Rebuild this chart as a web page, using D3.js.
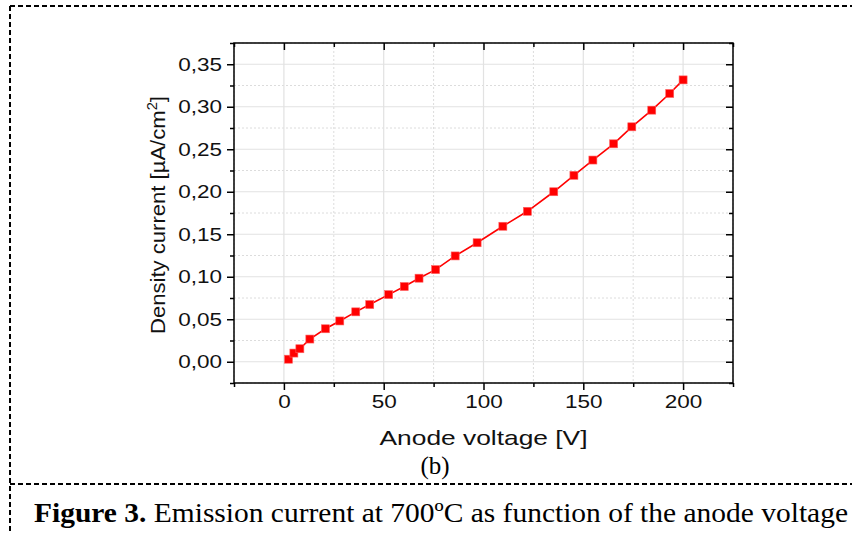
<!DOCTYPE html>
<html>
<head>
<meta charset="utf-8">
<script src="https://cdn.jsdelivr.net/npm/d3@7"></script>
<style>
body{margin:0;background:#fff;}
svg{display:block;}
</style>
</head>
<body>
<svg id="svg" width="852" height="533"></svg>
<script>
// anode voltage [V] and density current [uA/cm2]
var voltage=[2.3,5,8,13,20.8,28,36,43,52.5,60.3,67.7,76,85.8,96.8,109.7,122,135.2,145.3,154.8,165.2,174.3,184.3,193.3,200];
var current=[0.003,0.0102,0.0153,0.0267,0.0388,0.048,0.0587,0.0673,0.079,0.0885,0.0983,0.1084,0.1245,0.140,0.1594,0.177,0.200,0.2193,0.2373,0.2564,0.2764,0.296,0.3156,0.3316];
var xTicks=[0,50,100,150,200];
var xMinor=[-25,25,75,125,175,225];
var yTicks=[0,0.05,0.10,0.15,0.20,0.25,0.30,0.35];
var yMinor=[-0.025,0.025,0.075,0.125,0.175,0.225,0.275,0.325,0.375];

var svg=d3.select("#svg");
var pL=234,pR=733,pT=43,pB=383;

var x=d3.scaleLinear().domain([-25,225]).range([pL,pR]);
var y=d3.scaleLinear().domain([-0.025,0.375]).range([pB,pT]);

var fmt=function(d){return d3.format(".2f")(d).replace(".",",")};

// stretch text horizontally, the reference text is wide
function widen(sel,k){
    sel.each(function(){
        var w=this.getComputedTextLength();
        d3.select(this).attr("textLength",w*k).attr("lengthAdjust","spacingAndGlyphs");
    });
}

// page frame, dashed
var frame=svg.append("g").attr("stroke","#000").attr("stroke-width",2).attr("stroke-dasharray","5,3").attr("fill","none");
frame.append("line").attr("x1",10).attr("x2",852).attr("y1",6).attr("y2",6);
frame.append("line").attr("x1",10).attr("x2",10).attr("y1",6).attr("y2",533);
frame.append("line").attr("x1",10).attr("x2",852).attr("y1",484).attr("y2",484);

// grid
var grid=svg.append("g");
grid.selectAll(".vminor").data(xMinor).enter().append("line")
    .attr("x1",function(d){return x(d)}).attr("x2",function(d){return x(d)})
    .attr("y1",pT).attr("y2",pB)
    .attr("stroke","#dcdcdc").attr("stroke-dasharray","2,2");
grid.selectAll(".hminor").data(yMinor).enter().append("line")
    .attr("y1",function(d){return y(d)}).attr("y2",function(d){return y(d)})
    .attr("x1",pL).attr("x2",pR)
    .attr("stroke","#dcdcdc").attr("stroke-dasharray","2,2");
grid.selectAll(".vmajor").data(xTicks).enter().append("line")
    .attr("x1",function(d){return x(d)}).attr("x2",function(d){return x(d)})
    .attr("y1",pT).attr("y2",pB)
    .attr("stroke","#e2e2e2").attr("stroke-width",1.2);
grid.selectAll(".hmajor").data(yTicks).enter().append("line")
    .attr("y1",function(d){return y(d)}).attr("y2",function(d){return y(d)})
    .attr("x1",pL).attr("x2",pR)
    .attr("stroke","#e2e2e2").attr("stroke-width",1.2);

// axes
function styleAxis(g){
    g.select(".domain").remove();
    g.selectAll("line").attr("stroke","#000").attr("stroke-width",1.5);
    g.selectAll("text").attr("font-family","'Liberation Sans',Arial,sans-serif").attr("font-size","18px").attr("fill","#111");
}
var ax=svg.append("g");
ax.append("g").attr("transform","translate(0,"+pB+")")
    .call(d3.axisBottom(x).tickValues(xTicks).tickSize(7).tickPadding(5)).call(styleAxis)
    .selectAll("text").call(widen,1.25);
ax.append("g").attr("transform","translate(0,"+pB+")")
    .call(d3.axisBottom(x).tickValues(xMinor).tickSize(4).tickFormat("")).call(styleAxis);
ax.append("g").attr("transform","translate("+pL+",0)")
    .call(d3.axisLeft(y).tickValues(yTicks).tickSize(7).tickPadding(5).tickFormat(fmt)).call(styleAxis)
    .selectAll("text").call(widen,1.25);
ax.append("g").attr("transform","translate("+pL+",0)")
    .call(d3.axisLeft(y).tickValues(yMinor).tickSize(4).tickFormat("")).call(styleAxis);
ax.append("g").attr("transform","translate(0,"+pT+")")
    .call(d3.axisTop(x).tickValues(xTicks).tickSize(-7).tickFormat("")).call(styleAxis);
ax.append("g").attr("transform","translate(0,"+pT+")")
    .call(d3.axisTop(x).tickValues(xMinor).tickSize(-4).tickFormat("")).call(styleAxis);
ax.append("g").attr("transform","translate("+pR+",0)")
    .call(d3.axisRight(y).tickValues(yTicks).tickSize(-7).tickFormat("")).call(styleAxis);
ax.append("g").attr("transform","translate("+pR+",0)")
    .call(d3.axisRight(y).tickValues(yMinor).tickSize(-4).tickFormat("")).call(styleAxis);
ax.append("rect").attr("x",pL).attr("y",pT).attr("width",pR-pL).attr("height",pB-pT)
    .attr("fill","none").attr("stroke","#000").attr("stroke-width",1.5);

// data
var pts=voltage.map(function(v,i){return [v,current[i]]});
svg.append("path").datum(pts)
    .attr("d",d3.line().x(function(d){return x(d[0])}).y(function(d){return y(d[1])}))
    .attr("fill","none").attr("stroke","#ff0000").attr("stroke-width",1.6);
svg.selectAll(".pt").data(pts).enter().append("rect")
    .attr("x",function(d){return x(d[0])-4}).attr("y",function(d){return y(d[1])-4})
    .attr("width",8).attr("height",8)
    .attr("fill","#ff0000").attr("stroke","#ff6060").attr("stroke-width",0.6);

// axis titles
svg.append("text").attr("x",(pL+pR)/2).attr("y",445)
    .attr("text-anchor","middle").attr("font-family","'Liberation Sans',Arial,sans-serif")
    .attr("font-size","21px").attr("fill","#111").attr("textLength",208).attr("lengthAdjust","spacingAndGlyphs")
    .text("Anode voltage [V]");
var yt=svg.append("text").attr("transform","translate(165,215) rotate(-90)")
    .attr("text-anchor","middle").attr("font-family","'Liberation Sans',Arial,sans-serif")
    .attr("font-size","21px").attr("fill","#111").attr("textLength",238).attr("lengthAdjust","spacingAndGlyphs");
yt.append("tspan").text("Density current [µA/cm");
yt.append("tspan").attr("font-size","14px").attr("dy",-8).text("2");
yt.append("tspan").attr("dy",8).text("]");

// panel label and caption
svg.append("text").attr("x",435).attr("y",474).attr("text-anchor","middle")
    .attr("font-family","'Liberation Serif','Times New Roman',serif").attr("font-size","25px")
    .text("(b)");
var cap=svg.append("text").attr("x",34).attr("y",522)
    .attr("font-family","'Liberation Serif','Times New Roman',serif").attr("font-size","28px")
    .attr("textLength",814).attr("lengthAdjust","spacingAndGlyphs");
cap.append("tspan").attr("font-weight","bold").text("Figure 3.");
cap.append("tspan").text(" Emission current at 700ºC as function of the anode voltage");
</script>
</body>
</html>
